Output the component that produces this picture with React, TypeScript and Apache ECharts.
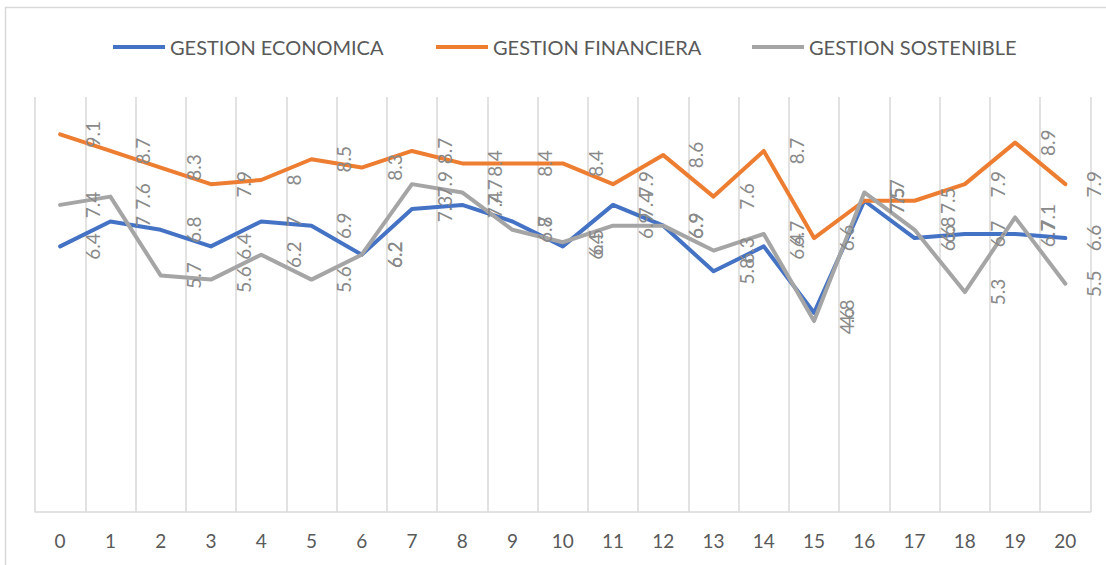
import React, { useEffect, useRef } from 'react';
import * as echarts from 'echarts';

const categories = ['0', '1', '2', '3', '4', '5', '6', '7', '8', '9', '10', '11', '12', '13', '14', '15', '16', '17', '18', '19', '20'];
const economica = [6.4, 7, 6.8, 6.4, 7, 6.9, 6.2, 7.3, 7.4, 7, 6.4, 7.4, 6.9, 5.8, 6.4, 4.8, 7.5, 6.6, 6.7, 6.7, 6.6];
const financiera = [9.1, 8.7, 8.3, 7.9, 8, 8.5, 8.3, 8.7, 8.4, 8.4, 8.4, 7.9, 8.6, 7.6, 8.7, 6.6, 7.5, 7.5, 7.9, 8.9, 7.9];
const sostenible = [7.4, 7.6, 5.7, 5.6, 6.2, 5.6, 6.2, 7.9, 7.7, 6.8, 6.5, 6.9, 6.9, 6.3, 6.7, 4.6, 7.7, 6.8, 5.3, 7.1, 5.5];
const seriesNames = ['GESTION ECONOMICA', 'GESTION FINANCIERA', 'GESTION SOSTENIBLE'];
const seriesColors = ['#4472C4', '#ED7D31', '#A5A5A5'];
const legendLefts = [108, 431, 747];

export default function App() {
  const ref = useRef<HTMLDivElement>(null);
  useEffect(() => {
    const chart = echarts.init(ref.current!, null, { renderer: 'svg' });
    const font = 'Lato, "Liberation Sans", sans-serif';
    const dataSets = [economica, financiera, sostenible];
    chart.setOption({
      animation: false,
      backgroundColor: '#ffffff',
      textStyle: { fontFamily: font },
      graphic: [
        {
          type: 'rect',
          silent: true,
          shape: { x: 5.5, y: 7.5, width: 1300, height: 800 },
          style: { fill: 'none', stroke: '#d9d9d9', lineWidth: 1.5 },
        },
      ],
      legend: seriesNames.map((n, i) => ({
        data: [n],
        left: legendLefts[i],
        top: 32,
        icon: 'rect',
        itemWidth: 52,
        itemHeight: 4,
        textStyle: { color: '#595959', fontSize: 20, fontFamily: font },
      })),
      grid: { left: 35, right: 15.5, top: 97, bottom: 53 },
      xAxis: {
        type: 'category',
        data: categories,
        boundaryGap: true,
        axisTick: { show: false },
        axisLine: { lineStyle: { color: '#d9d9d9', width: 1.5 } },
        axisLabel: { color: '#595959', fontSize: 19, margin: 19, fontFamily: font },
        splitLine: { show: true, lineStyle: { color: '#d9d9d9', width: 1.5 } },
      },
      yAxis: {
        type: 'value',
        min: 0,
        max: 10,
        show: false,
        splitLine: { show: false },
      },
      series: dataSets.map((d, i) => ({
        name: seriesNames[i],
        type: 'line',
        data: d.map((v, j) =>
          j === d.length - 1 ? { value: v, label: { position: [29, 0.5] } } : v
        ),
        symbol: 'circle',
        symbolSize: 1,
        showSymbol: true,
        color: seriesColors[i],
        itemStyle: { color: seriesColors[i] },
        lineStyle: { color: seriesColors[i], width: 4, cap: 'round', join: 'round' },
        label: {
          show: true,
          position: [33, 0.5],
          align: 'center',
          verticalAlign: 'middle',
          rotate: 90,
          color: '#898989',
          fontSize: 19,
          fontFamily: font,
        },
        emphasis: { disabled: true },
      })),
    });
    return () => chart.dispose();
  }, []);
  return <div ref={ref} style={{ position: 'fixed', left: 0, top: 0, width: 1106, height: 565 }} />;
}
